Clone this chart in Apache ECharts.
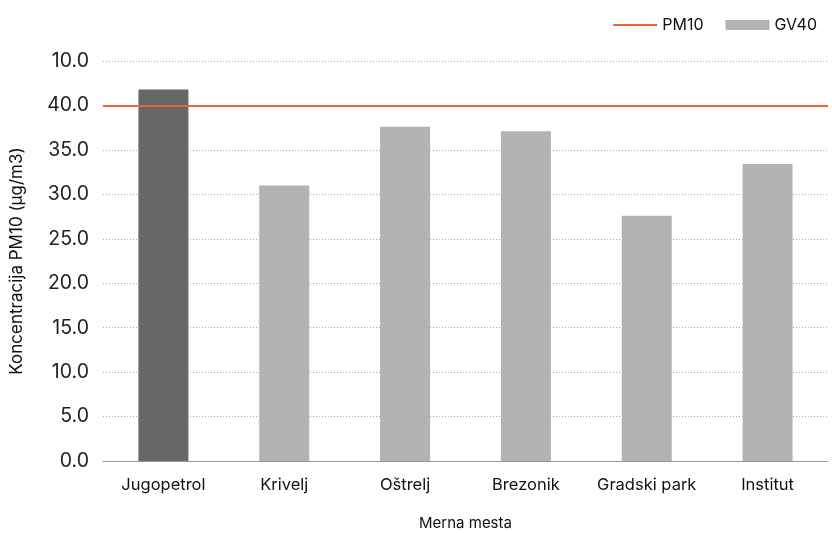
<!DOCTYPE html>
<head>
    <meta charset="utf-8">
    <title>PM10</title>
    <script src="https://cdn.jsdelivr.net/npm/echarts@6/dist/echarts.min.js"></script>
    <style>
        body { margin: 0; background: #fff; }
        #chart { width: 832px; height: 533px; }
    </style>
</head>
<body>
    <div id="chart"></div>
    <script type="text/javascript">
        var categories = ['Jugopetrol', 'Krivelj', 'Oštrelj', 'Brezonik', 'Gradski park', 'Institut'];
        var gv40 = [41.8, 31.0, 37.6, 37.1, 27.6, 33.4];
        var pm10Limit = 40;
        var yTickLabels = ['0.0', '5.0', '10.0', '15.0', '20.0', '25.0', '30.0', '35.0', '40.0', '10.0'];

        var myChart = echarts.init(document.getElementById('chart'));
        var font = 'Inter, "Noto Sans", sans-serif';

        // first bar is darker
        var barData = gv40.map(function (v, i) {
            return i === 0 ? { value: v, itemStyle: { color: '#666766' } } : v;
        });

        var option = {
            textStyle: { fontFamily: font },
            animation: false,
            legend: {
                right: 10,
                top: 12,
                itemWidth: 44,
                itemHeight: 10,
                itemGap: 22,
                textStyle: { fontSize: 16, color: '#111', fontFamily: font },
                data: [
                    { name: 'PM10', icon: 'path://M0,0L44,0L44,2L0,2Z' },
                    { name: 'GV40', icon: 'rect' }
                ]
            },
            grid: { left: 103, right: 4, top: 61, bottom: 72, outerBoundsMode: 'none' },
            xAxis: {
                type: 'category',
                data: categories,
                name: 'Merna mesta',
                nameLocation: 'middle',
                nameGap: 55,
                nameTextStyle: { fontSize: 15, color: '#111', fontFamily: font },
                axisLine: { lineStyle: { color: '#999', width: 1 } },
                axisTick: { show: false },
                axisLabel: { fontSize: 16.5, color: '#111', margin: 16, interval: 0, hideOverlap: false, fontFamily: font }
            },
            yAxis: {
                type: 'value',
                min: 0,
                max: 45,
                interval: 5,
                name: 'Koncentracija PM10 (μg/m3)',
                nameLocation: 'middle',
                nameGap: 78,
                nameTextStyle: { fontSize: 17, color: '#111', fontFamily: font },
                axisLine: { show: false },
                axisTick: { show: false },
                axisLabel: {
                    fontSize: 19.5,
                    color: '#222',
                    margin: 14,
                    fontFamily: font,
                    formatter: function (v) { return yTickLabels[Math.round(v / 5)]; }
                },
                splitLine: { lineStyle: { color: '#aaa', type: [1, 2], width: 1 } }
            },
            series: [
                {
                    name: 'PM10',
                    type: 'line',
                    symbol: 'none',
                    data: [],
                    itemStyle: { color: '#ec6431' },
                    lineStyle: { color: '#ec6431', width: 2 },
                    markLine: {
                        silent: true,
                        symbol: 'none',
                        label: { show: false },
                        lineStyle: { color: '#ec6431', width: 2, type: 'solid' },
                        data: [{ yAxis: pm10Limit }]
                    }
                },
                {
                    name: 'GV40',
                    type: 'bar',
                    barWidth: 50,
                    itemStyle: { color: '#b2b3b2' },
                    data: barData
                }
            ]
        };

        myChart.setOption(option);
    </script>
</body>
